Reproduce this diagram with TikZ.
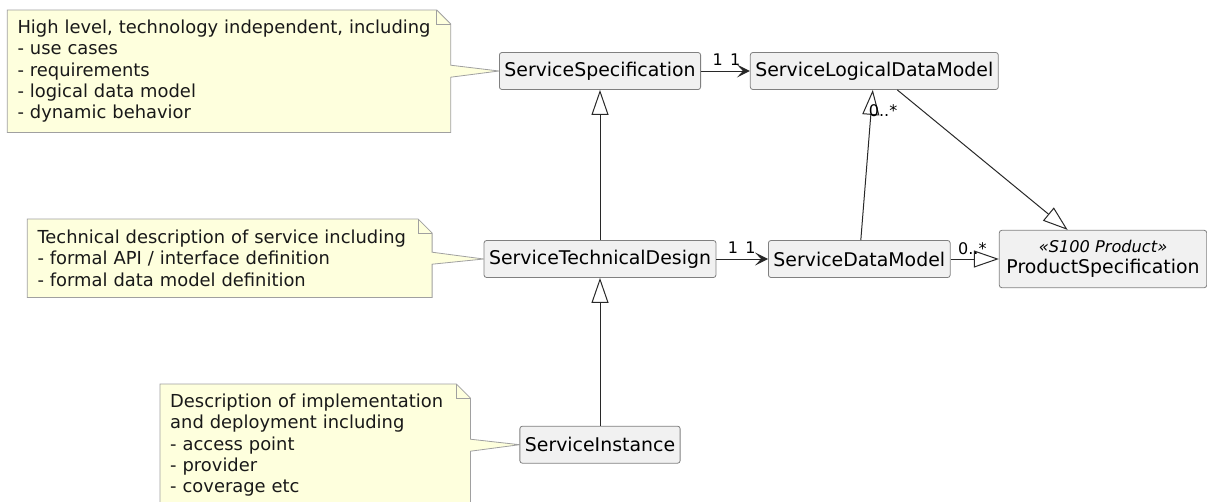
\documentclass[tikz,border=0pt]{standalone}
\usepackage{fontspec}
\setmainfont{DejaVu Sans}
\usetikzlibrary{arrows.meta,calc,backgrounds}
\definecolor{notefill}{HTML}{FEFFDD}
\definecolor{noteedge}{HTML}{A0A0A0}
\definecolor{classfill}{HTML}{F1F1F1}
\definecolor{classedge}{HTML}{808080}
\definecolor{linkcol}{HTML}{282828}
\begin{document}
\begin{tikzpicture}[x=1pt,y=-1pt,
		cls/.style={draw=classedge,fill=classfill,rounded corners=2.5pt,line width=0.8pt,minimum height=37pt,inner xsep=5pt,inner ysep=0pt,font=\fontsize{18.9}{21.6}\selectfont},
		notetext/.style={anchor=north west,inner xsep=10pt,inner ysep=0pt,align=left,font=\fontsize{17.9}{21.4}\selectfont,text=black!90},
		noteline/.style={draw=noteedge,fill=notefill,line width=0.8pt},
		lbl/.style={inner sep=1pt,font=\fontsize{16}{18}\selectfont},
		assoc/.style={draw=linkcol,line width=1pt,-{Stealth[length=13pt,width=13pt,inset=6pt,line width=1.3pt]}},
		inherit/.style={draw=linkcol,line width=1pt,-{Triangle[length=25pt,width=17pt,fill=white]}}]
		\useasboundingbox (0,0) rectangle (1207,501);
		
		%Classi
		\node[cls] (ss) at (600,71) {ServiceSpecification};
		\node[cls] (sldm) at (874.3,71) {ServiceLogicalDataModel};
		\node[cls] (std) at (600,259) {ServiceTechnicalDesign};
		\node[cls] (sdm) at (859.3,259) {ServiceDataModel};
		\node[cls,minimum height=57.4pt,minimum width=207.4pt,align=center] (ps) at (1103,259) 
		{{\fontsize{16.2}{18}\selectfont\itshape «S100 Product»}\\ProductSpecification};
		\node[cls] (si) at (600,444.7) {ServiceInstance};
		
		%Note
		\node[notetext,text width=423pt,minimum height=122pt] (note1) at (7.3,10) 
		{High level, technology independent, including\\- use cases\\- requirements\\- logical data model\\- dynamic behavior};
		\node[notetext,text width=384.4pt,minimum height=78pt] (note2) at (27.3,219) 
		{Technical description of service including\\- formal API / interface definition\\- formal data model definition};
		\node[notetext,text width=290pt,minimum height=122pt] (note3) at (160,384) 
		{Description of implementation\\and deployment including\\- access point\\- provider\\- coverage etc};
		\begin{scope}[on background layer]
			\clip (0,0) rectangle (1207,501);
			\draw[noteline] (note1.south west) |- ($(note1.north east)+(-14,0)$) -- ($(note1.north east)+(0,14)$) 
			-- ($(note1.east)+(0,-6)$) -- (ss.west) -- ($(note1.east)+(0,6)$) -- (note1.south east) -- cycle;
			\draw[noteline,fill=none] ($(note1.north east)+(-14,0)$) |- ($(note1.north east)+(0,14)$);
			\draw[noteline] (note2.south west) |- ($(note2.north east)+(-14,0)$) -- ($(note2.north east)+(0,14)$) 
			-- ($(note2.east)+(0,-6)$) -- (std.west) -- ($(note2.east)+(0,6)$) -- (note2.south east) -- cycle;
			\draw[noteline,fill=none] ($(note2.north east)+(-14,0)$) |- ($(note2.north east)+(0,14)$);
			\draw[noteline] (note3.south west) |- ($(note3.north east)+(-14,0)$) -- ($(note3.north east)+(0,14)$) 
			-- ($(note3.east)+(0,-6)$) -- (si.west) -- ($(note3.east)+(0,6)$) -- (note3.south east) -- cycle;
			\draw[noteline,fill=none] ($(note3.north east)+(-14,0)$) |- ($(note3.north east)+(0,14)$);
		\end{scope}
		
		%Relazioni
		\draw[assoc] (ss) -- (sldm) node[lbl,pos=.34,yshift=11.7pt] {1} node[lbl,pos=.7,yshift=11.7pt] {1};
		\draw[assoc] (std) -- (sdm) node[lbl,pos=.32,yshift=11.7pt] {1} node[lbl,pos=.66,yshift=11.7pt] {1};
		\draw[inherit] (std) -- (ss);
		\draw[inherit] (si) -- (std);
		\draw[inherit] (sdm) -- (sldm) node[lbl,pos=.86,xshift=12pt] {0..*};
		\draw[inherit] (sdm) -- (ps) node[lbl,pos=.45,yshift=10.5pt] {0..*};
		\draw[inherit] (sldm) -- (ps);
\end{tikzpicture}
\end{document}
